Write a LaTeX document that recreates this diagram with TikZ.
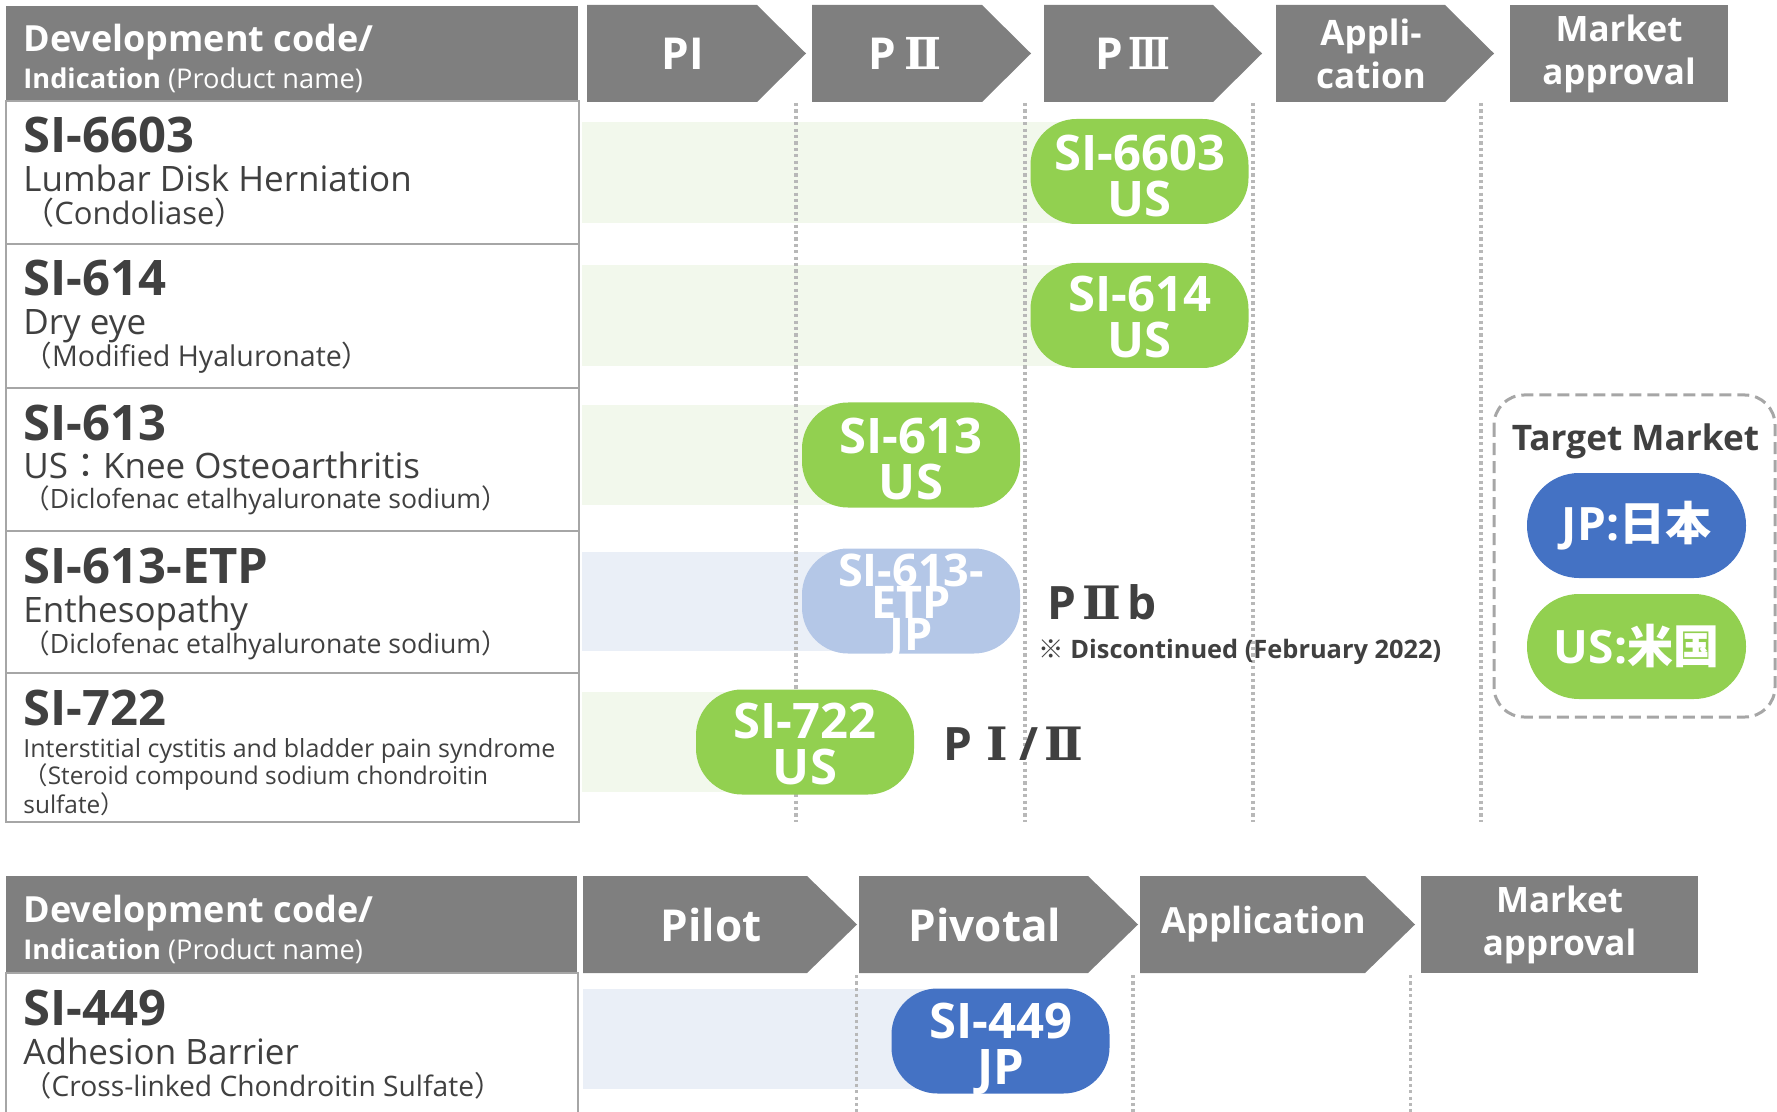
\documentclass[tikz,border=0pt]{standalone}
\usepackage{fontspec}
\usepackage{graphicx}
\setmainfont{Open Sans}
\newfontfamily\jpfont{Noto Sans CJK JP}
\newfontfamily\romfont{DejaVu Serif}
\newcommand\jc[1]{{\jpfont #1}}
\newcommand\rn[1]{{\romfont\bfseries #1}}
\definecolor{hdrgray}{HTML}{7F7F7F}
\definecolor{linegray}{HTML}{A6A6A6}
\definecolor{dotgray}{HTML}{B8B8B8}
\definecolor{pillgreen}{HTML}{92D050}
\definecolor{pillblue}{HTML}{4472C4}
\definecolor{pilllight}{HTML}{B4C7E7}
\definecolor{bandgreen}{HTML}{F2F8EC}
\definecolor{bandblue}{HTML}{EAEFF7}
\definecolor{darktext}{HTML}{404040}
\newcommand\phaseshape[5]{%
  \fill[hdrgray] (#1,#3) -- ({#2-#5},#3) -- (#2,{(#3+#4)/2}) -- ({#2-#5},#4) -- (#1,#4) -- cycle;
}
\tikzset{
  codetxt/.style={anchor=base west, inner sep=0pt, text=darktext, font=\fontsize{24.5}{28}\selectfont\bfseries},
  indtxt/.style={anchor=base west, inner sep=0pt, text=darktext, font=\fontsize{17.5}{20}\selectfont},
  prodtxt/.style={anchor=base west, inner sep=0pt, text=darktext, font=\fontsize{#1}{18}\selectfont},
  smalltxt/.style={anchor=base west, inner sep=0pt, text=darktext, font=\fontsize{12.5}{15}\selectfont},
  hdrbig/.style={anchor=base west, inner sep=0pt, text=white, font=\fontsize{18}{20}\selectfont\bfseries},
  hdrsmall/.style={anchor=base west, inner sep=0pt, text=white, font=\fontsize{13.6}{16}\selectfont},
  phasetxt/.style={text=white, inner sep=0pt, align=center, font=\fontsize{22}{24}\selectfont\bfseries},
  phasetwo/.style={text=white, inner sep=0pt, align=center, font=\fontsize{17.5}{21.5}\selectfont\bfseries},
  phasemid/.style={text=white, inner sep=0pt, align=center, font=\fontsize{18}{21}\selectfont\bfseries},
  tbl/.style={draw=linegray, line width=1pt},
  dotline/.style={draw=dotgray, line width=1.6pt, dash pattern=on 1.6pt off 1.6pt},
  pill/.style={rounded corners=23pt, minimum width=109pt, minimum height=52.5pt, inner sep=0pt},
  pilltxt/.style={inner sep=0pt, text=white, align=center, font=\fontsize{24.5}{23}\selectfont\bfseries},
  lighttxt/.style={inner sep=0pt, text=white, align=center, font=\fontsize{22.5}{16}\selectfont\bfseries},
  stadium/.style={rounded corners=26pt, minimum width=109.5pt, minimum height=52.5pt, inner sep=0pt, text=white, font=\fontsize{23}{26}\selectfont\bfseries},
  notetxt/.style={anchor=base west, inner sep=0pt, text=darktext, font=\fontsize{23}{24}\selectfont\bfseries},
  disctxt/.style={anchor=base west, inner sep=0pt, text=darktext, font=\fontsize{12.7}{15}\selectfont\bfseries},
  tmtxt/.style={anchor=base, inner sep=0pt, text=darktext, font=\fontsize{17.6}{18}\selectfont\bfseries},
  tmbox/.style={draw=linegray, line width=1.5pt, dash pattern=on 6pt off 3pt, rounded corners=15pt}
}
\begin{document}
\lineskiplimit=-50pt
\begin{tikzpicture}[x=0.5pt,y=-0.5pt]
\useasboundingbox (0,0) rectangle (1777,1112);
% light tracks
\fill[bandgreen] (582,122) rectangle (1140,223);
\fill[bandgreen] (582,265) rectangle (1140,366);
\fill[bandgreen] (582,405) rectangle (911,505);
\fill[bandblue] (582,552) rectangle (911,651);
\fill[bandgreen] (582,692) rectangle (805,792);
\fill[bandblue] (583,989) rectangle (1000,1089);
% dotted phase separators
\foreach \x in {796,1025,1253,1481} \draw[dotline] (\x,103) -- (\x,822);
\foreach \x in {856.5,1133,1410.5} \draw[dotline] (\x,975) -- (\x,1112);
% top header
\fill[hdrgray] (6,6) rectangle (578,101);
\node[hdrbig] (h1a) at (23,52) {Development code/};
\node[hdrsmall] (h1b) at (23,89) {\textbf{Indication} (Product name)};
\phaseshape{587}{806}{5}{102}{49}
\node[phasetxt] (ph1) at (682.5,53.5) {PI};
\phaseshape{812}{1031}{5}{102}{49}
\node[phasetxt] (ph2) at (905,53.5) {P\hspace{4pt}\rn{Ⅱ}};
\phaseshape{1044}{1262}{5}{102}{49}
\node[phasetxt] (ph3) at (1133,53.5) {P\hspace{3pt}\scalebox{0.78}[1]{\rn{Ⅲ}}};
\phaseshape{1276}{1494}{5}{102}{49}
\node[phasetwo] (ph4) at (1371,53.5) {Appli-\\cation};
\fill[hdrgray] (1510,5) rectangle (1728,102);
\node[phasetwo] (ph5) at (1619,53.5) {Market\\approval};
% table rows
\draw[tbl] (6,101) rectangle (579,244);
\draw[tbl] (6,244) rectangle (579,388);
\draw[tbl] (6,388) rectangle (579,531);
\draw[tbl] (6,531) rectangle (579,673);
\draw[tbl] (6,673) rectangle (579,822);
% row texts
\node[codetxt] (c1) at (23,153) {SI-6603};
\node[indtxt] (i1) at (23,192) {Lumbar Disk Herniation};
\node[prodtxt=15.5] (p1) at (23,225) {\jc{（}Condoliase\jc{）}};
\node[codetxt] (c2) at (23,296) {SI-614};
\node[indtxt] (i2) at (23,335) {Dry eye};
\node[prodtxt=14.3] (p2) at (23,367) {\jc{（}Modified Hyaluronate\jc{）}};
\node[codetxt] (c3) at (23,440) {SI-613};
\node[indtxt] (i3) at (23,479) {US\jc{：}Knee Osteoarthritis};
\node[prodtxt=13.3] (p3) at (23,509) {\jc{（}Diclofenac etalhyaluronate sodium\jc{）}};
\node[codetxt] (c4) at (23,583) {SI-613-ETP};
\node[indtxt] (i4) at (23,622) {Enthesopathy};
\node[prodtxt=13.3] (p4) at (23,653) {\jc{（}Diclofenac etalhyaluronate sodium\jc{）}};
\node[codetxt] (c5) at (23,725) {SI-722};
\node[smalltxt] (i5) at (23,757) {Interstitial cystitis and bladder pain syndrome};
\node[prodtxt=12.2] (p5) at (23,784) {\jc{（}Steroid compound sodium chondroitin};
\node[prodtxt=12.2] (p5b) at (23,813) {sulfate\jc{）}};
% pills
\node[pill, fill=pillgreen] (s1) at (1139.5,171.5) {};
\node[pilltxt] (s1t) at (1139.5,176) {SI-6603\\US};
\node[pill, fill=pillgreen] (s2) at (1139.5,315.5) {};
\node[pilltxt] (s2t) at (1139.5,317) {SI-614\\US};
\node[pill, fill=pillgreen] (s3) at (911,455) {};
\node[pilltxt] (s3t) at (911,459) {SI-613\\US};
\node[pill, fill=pilllight] (s4) at (911,601) {};
\node[lighttxt] (s4t) at (911,607) {SI-613-\\ETP\\JP};
\node[pill, fill=pillgreen] (s5) at (805,742) {};
\node[pilltxt] (s5t) at (805,744) {SI-722\\US};
\node[notetxt] (n4) at (1047,619) {P\hspace{3pt}\rn{Ⅱ}\hspace{3pt}b};
\node[disctxt] (d4) at (1038,658) {\jc{※} Discontinued (February 2022)};
\node[notetxt] (n5) at (943,760) {P\hspace{7pt}\rn{Ⅰ}\hspace{6pt}/\hspace{3pt}\rn{Ⅱ}};
% target market legend
\draw[tmbox] (1494,395) rectangle (1775,717);
\node[tmtxt] (tm) at (1635.5,451) {Target Market};
\node[stadium, fill=pillblue] (jp) at (1636.5,525.5) {JP:\jc{日本}};
\node[stadium, fill=pillgreen] (us) at (1636.5,646.5) {US:\jc{米国}};
% bottom section
\fill[hdrgray] (6,876) rectangle (577,973);
\node[hdrbig] (h2a) at (23,922) {Development code/};
\node[hdrsmall] (h2b) at (23,959) {\textbf{Indication} (Product name)};
\phaseshape{583}{857}{876}{973}{50}
\node[phasetxt] (q1) at (711,924.5) {Pilot};
\phaseshape{859}{1138}{876}{973}{50}
\node[phasetxt] (q2) at (985,924.5) {Pivotal};
\phaseshape{1140}{1415}{876}{973}{50}
\node[phasemid] (q3) at (1264,924.5) {Application};
\fill[hdrgray] (1421,876) rectangle (1698,973);
\node[phasetwo] (q4) at (1559.5,924.5) {Market\\approval};
\draw[tbl] (6,1112) -- (6,973) -- (578,973) -- (578,1112);
\node[codetxt] (c6) at (23,1025) {SI-449};
\node[indtxt] (i6) at (23,1064) {Adhesion Barrier};
\node[prodtxt=14.1] (p6) at (23,1096) {\jc{（}Cross-linked Chondroitin Sulfate\jc{）}};
\node[pill, fill=pillblue] (s6) at (1000.5,1041) {};
\node[pilltxt] (s6t) at (1000.5,1049) {SI-449\\JP};
\end{tikzpicture}
\end{document}
